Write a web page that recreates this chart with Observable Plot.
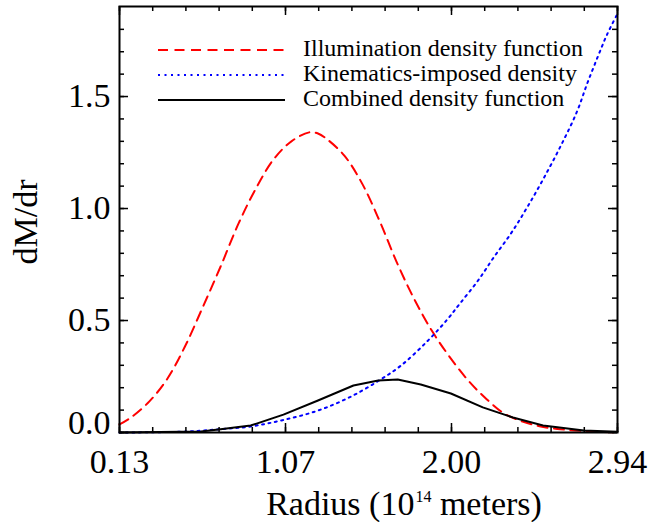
<!DOCTYPE html>
<html>
<head>
<meta charset="utf-8">
<script src="https://cdn.jsdelivr.net/npm/d3@7"></script>
<script src="https://cdn.jsdelivr.net/npm/@observablehq/plot@0.6"></script>
<style>
  html, body { margin: 0; padding: 0; background: #fff; }
  #chart { width: 649px; height: 522px; }
  #chart svg, #chart svg text, #chart svg tspan { font-family: "Liberation Serif", "Times New Roman", Times, "DejaVu Serif", serif !important; }
</style>
</head>
<body>
<div id="chart"></div>
<script>
// Illumination density function (red dashed)
const illumR = [0.13,0.20,0.30,0.40,0.50,0.60,0.70,0.80,0.90,1.00,1.10,1.20,1.25,1.30,1.40,1.50,1.60,1.70,1.80,1.90,2.00,2.10,2.20,2.30,2.40,2.50,2.60,2.70,2.80,2.94];
const illumV = [0.036,0.07,0.14,0.24,0.385,0.56,0.74,0.93,1.09,1.22,1.30,1.34,1.335,1.31,1.235,1.11,0.94,0.75,0.585,0.445,0.33,0.23,0.15,0.085,0.05,0.028,0.016,0.009,0.004,0.0];
// Kinematics-imposed density (blue dotted)
const kinR = [0.13,0.30,0.50,0.70,0.87,1.05,1.25,1.43,1.59,1.72,1.87,1.98,2.05,2.15,2.24,2.34,2.43,2.52,2.62,2.71,2.77,2.83,2.88,2.94];
const kinV = [0.0,0.001,0.004,0.015,0.027,0.055,0.098,0.158,0.230,0.300,0.410,0.505,0.575,0.675,0.780,0.890,1.005,1.130,1.280,1.430,1.560,1.680,1.775,1.870];
// Combined density function (black solid)
const combR = [0.13,0.59,0.70,0.87,1.055,1.25,1.45,1.59,1.70,1.83,2.00,2.18,2.35,2.52,2.75,2.94];
const combV = [0.0,0.004,0.015,0.031,0.080,0.143,0.210,0.232,0.237,0.214,0.174,0.112,0.067,0.031,0.009,0.003];

// Axis ticks
const xTicks = [0.13, 1.0667, 2.0033, 2.94];
const xTickLabels = ["0.13", "1.07", "2.00", "2.94"];
const yTicks = [0, 0.5, 1.0, 1.5];
const yTickLabels = ["0.0", "0.5", "1.0", "1.5"];
const xDomain = [0.13, 2.94];
const yDomain = [0, 1.902];

const seriesNames = ["Illumination density function", "Kinematics-imposed density", "Combined density function"];
const xTitle = ["Radius (10", "14", " meters)"];
const yTitle = "dM/dr";

const illum = illumR.map((r, i) => ({r, v: illumV[i]}));
const kin = kinR.map((r, i) => ({r, v: kinV[i]}));
const comb = combR.map((r, i) => ({r, v: combV[i]}));

const xMinor = d3.range(16).map(i => xDomain[0] + i * (xDomain[1] - xDomain[0]) / 15);
const yMinor = d3.range(19).map(i => i * 0.1);

const W = 649, H = 522;
const mL = 119, mR = 32, mT = 6, mB = 90;
const pw = W - mL - mR, ph = H - mT - mB;
const major = 9, minor = 5;
const ff = "'Liberation Serif', 'Times New Roman', Times, serif";

const tickStyle = {stroke: "black", strokeWidth: 1.5};
const yLab = yTicks.map((v, i) => ({v, label: yTickLabels[i]}));

const svg = Plot.plot({
  width: W, height: H,
  marginLeft: mL, marginRight: mR, marginTop: mT, marginBottom: mB,
  style: {fontFamily: ff, background: "white", color: "black"},
  x: {domain: xDomain},
  y: {domain: yDomain, axis: null},
  marks: [
    Plot.line(illum, {x: "r", y: "v", stroke: "#ff0000", strokeWidth: 2, strokeDasharray: "10,6.5", curve: "catmull-rom"}),
    Plot.line(kin, {x: "r", y: "v", stroke: "#0000ff", strokeWidth: 2, strokeDasharray: "2,4.5", curve: "catmull-rom"}),
    Plot.line(comb, {x: "r", y: "v", stroke: "black", strokeWidth: 2}),
    // inward ticks, bottom & top
    Plot.tickX(xTicks, {x: d => d, insetTop: ph - major, ...tickStyle}),
    Plot.tickX(xTicks, {x: d => d, insetBottom: ph - major, ...tickStyle}),
    Plot.tickX(xMinor, {x: d => d, insetTop: ph - minor, ...tickStyle}),
    Plot.tickX(xMinor, {x: d => d, insetBottom: ph - minor, ...tickStyle}),
    // inward ticks, left & right
    Plot.tickY(yTicks, {y: d => d, insetRight: pw - major, ...tickStyle}),
    Plot.tickY(yTicks, {y: d => d, insetLeft: pw - major, ...tickStyle}),
    Plot.tickY(yMinor, {y: d => d, insetRight: pw - minor, ...tickStyle}),
    Plot.tickY(yMinor, {y: d => d, insetLeft: pw - minor, ...tickStyle}),
    Plot.axisX({ticks: xTicks, tickFormat: d => xTickLabels[xTicks.indexOf(d)], tickSize: 0, tickPadding: 16, fontSize: 34, label: null}),
    // y tick labels (the 0.0 label sits slightly raised, as in the reference)
    Plot.text(yLab.slice(1), {y: "v", text: "label", frameAnchor: "left", textAnchor: "end", dx: -9, fontSize: 34}),
    Plot.text(yLab.slice(0, 1), {y: "v", text: "label", frameAnchor: "left", textAnchor: "end", dx: -9, dy: -9, fontSize: 34}),
    Plot.frame({stroke: "black", strokeWidth: 2})
  ]
});

const s = d3.select(svg);

// y-axis title
s.append("text")
  .attr("transform", "translate(37,222) rotate(-90)")
  .attr("text-anchor", "middle")
  .attr("font-family", ff).attr("font-size", 34).attr("fill", "black")
  .text(yTitle);

// x-axis title with superscript
const xt = s.append("text")
  .attr("x", 404).attr("y", 515)
  .attr("text-anchor", "middle")
  .attr("font-family", ff).attr("font-size", 34).attr("fill", "black");
xt.append("tspan").text(xTitle[0]);
xt.append("tspan").attr("font-size", 16).attr("dy", -13).attr("dx", 1).text(xTitle[1]);
xt.append("tspan").attr("dy", 13).text(xTitle[2]);

// legend
const leg = s.append("g").attr("font-family", ff).attr("font-size", 24).attr("fill", "black").attr("text-anchor", "start");
const legStyles = [
  {stroke: "#ff0000", dash: "10,6.5"},
  {stroke: "#0000ff", dash: "2,4.5"},
  {stroke: "black", dash: null}
];
seriesNames.forEach((name, i) => {
  const yb = 56 + i * 25;
  const ln = leg.append("line")
    .attr("x1", 158).attr("x2", 285)
    .attr("y1", yb - 6).attr("y2", yb - 6)
    .attr("stroke", legStyles[i].stroke).attr("stroke-width", 2);
  if (legStyles[i].dash) ln.attr("stroke-dasharray", legStyles[i].dash);
  leg.append("text").attr("x", 303).attr("y", yb).attr("text-anchor", "start").text(name);
});

document.getElementById("chart").appendChild(svg);
</script>
</body>
</html>
